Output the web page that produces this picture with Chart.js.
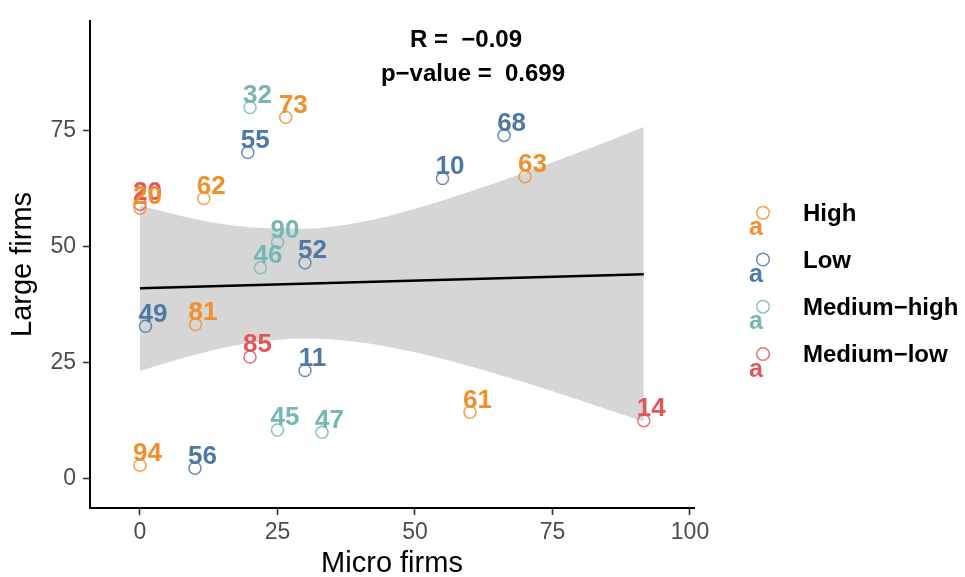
<!DOCTYPE html>
<html>
<head>
<meta charset="utf-8">
<script src="https://cdn.jsdelivr.net/npm/chart.js@4/dist/chart.umd.min.js"></script>
<style>
  html, body { margin: 0; padding: 0; background: #ffffff; overflow: hidden; }
  canvas { display: block; }
</style>
</head>
<body>
<canvas id="c" width="965" height="577"></canvas>
<script>
// ---------- data ----------
const categories = ['High', 'Low', 'Medium\u2212high', 'Medium\u2212low'];
const colors = ['#F28E2B', '#4E79A7', '#76B7B2', '#E15759'];

const highX = [26.5, 11.6, 0, 10.1, 0, 70.0, 60.0];
const highY = [77.8, 60.3, 58.2, 33.2, 2.9, 65.0, 14.3];
const highLabels = ['73', '62', '20', '81', '94', '63', '61'];

const lowX = [19.6, 30.0, 1.0, 30.0, 10.0, 66.2, 55.0];
const lowY = [70.2, 46.5, 32.8, 23.3, 2.25, 73.9, 64.6];
const lowLabels = ['55', '52', '49', '11', '56', '68', '10'];

const medHighX = [20.0, 25.0, 21.9, 25.0, 33.1];
const medHighY = [79.9, 50.9, 45.4, 10.5, 10.0];
const medHighLabels = ['32', '90', '46', '45', '47'];

const medLowX = [0, 20.0, 91.6];
const medLowY = [59.1, 26.2, 12.5];
const medLowLabels = ['20', '85', '14'];

// fitted line and its confidence band
const fitX = [0, 91.6];
const fitY = [41.0, 44.0];
const bandX = [0, 10, 20, 30, 40, 50, 60, 70, 80, 91.6];
const bandLow = [23.2, 26.7, 29.2, 30.2, 29.4, 27.2, 24.2, 20.7, 16.9, 12.3];
const bandHigh = [58.8, 55.9, 54.1, 53.8, 55.2, 58.1, 61.8, 65.9, 70.3, 75.7];

const xTicks = [0, 25, 50, 75, 100];
const yTicks = [0, 25, 50, 75];

const statR = 'R =  \u22120.09';
const statP = 'p\u2212value =  0.699';
const xTitle = 'Micro firms';
const yTitle = 'Large firms';

// ---------- helpers ----------
const FAMILY = '"Liberation Sans", Arial, Helvetica, sans-serif';
function pts(xs, ys) { return xs.map((x, i) => ({ x: x, y: ys[i] })); }
function alpha(hex, a) {
  const n = parseInt(hex.slice(1), 16);
  return 'rgba(' + ((n >> 16) & 255) + ',' + ((n >> 8) & 255) + ',' + (n & 255) + ',' + a + ')';
}
const groups = [
  { name: categories[0], color: colors[0], x: highX, y: highY, labels: highLabels },
  { name: categories[1], color: colors[1], x: lowX, y: lowY, labels: lowLabels },
  { name: categories[2], color: colors[2], x: medHighX, y: medHighY, labels: medHighLabels },
  { name: categories[3], color: colors[3], x: medLowX, y: medLowY, labels: medLowLabels }
];

const pointDatasets = groups.map(g => ({
  type: 'scatter',
  label: g.name,
  data: pts(g.x, g.y),
  pointStyle: 'circle',
  pointRadius: 6,
  pointBorderWidth: 1.5,
  pointBackgroundColor: 'rgba(0,0,0,0)',
  pointBorderColor: alpha(g.color, 0.85),
  order: 1
}));

// ---------- overlay plugin: point labels, stats text, legend ----------
const overlay = {
  id: 'overlay',
  afterDatasetsDraw(chart) {
    const ctx = chart.ctx;
    const xs = chart.scales.x, ys = chart.scales.y;
    ctx.save();
    // point labels
    ctx.font = 'bold 26px ' + FAMILY;
    ctx.textAlign = 'center';
    ctx.textBaseline = 'alphabetic';
    const drawOrder = [3, 2, 1, 0];
    drawOrder.forEach(gi => {
      const g = groups[gi];
      ctx.fillStyle = g.color;
      g.labels.forEach((lab, i) => {
        const px = xs.getPixelForValue(g.x[i]);
        const py = ys.getPixelForValue(g.y[i]);
        ctx.fillText(lab, px + 7.5, py - 4.5);
      });
    });
    // stats annotation
    ctx.fillStyle = '#000';
    ctx.font = 'bold 24px ' + FAMILY;
    ctx.fillText(statR, 466, 47);
    ctx.fillText(statP, 473, 81);
    // legend
    const rowY = [212.7, 259.5, 306.7, 354];
    groups.forEach((g, i) => {
      const cy = rowY[i];
      ctx.beginPath();
      ctx.arc(763, cy, 6.3, 0, Math.PI * 2);
      ctx.lineWidth = 1.5;
      ctx.strokeStyle = alpha(g.color, 0.85);
      ctx.stroke();
      ctx.fillStyle = g.color;
      ctx.font = 'bold 25px ' + FAMILY;
      ctx.textAlign = 'center';
      ctx.fillText('a', 756, cy + 22.5);
      ctx.fillStyle = '#000';
      ctx.font = 'bold 24px ' + FAMILY;
      ctx.textAlign = 'left';
      ctx.fillText(g.name, 803, cy + 8.3);
    });
    ctx.restore();
  }
};

// ---------- chart ----------
new Chart(document.getElementById('c'), {
  type: 'scatter',
  data: {
    datasets: [
      {
        type: 'line', label: 'band-low', data: pts(bandX, bandLow),
        borderWidth: 0, borderColor: 'rgba(0,0,0,0)', pointRadius: 0,
        fill: false, cubicInterpolationMode: 'monotone', order: 3
      },
      {
        type: 'line', label: 'band-high', data: pts(bandX, bandHigh),
        borderWidth: 0, borderColor: 'rgba(0,0,0,0)', pointRadius: 0,
        fill: '-1', backgroundColor: '#d6d6d6', cubicInterpolationMode: 'monotone', order: 3
      },
      {
        type: 'line', label: 'fit', data: pts(fitX, fitY),
        borderWidth: 2.5, borderColor: '#000000', pointRadius: 0, fill: false, order: 2
      }
    ].concat(pointDatasets)
  },
  options: {
    responsive: false,
    devicePixelRatio: 1,
    animation: false,
    events: [],
    layout: { padding: { top: 14, right: 271, bottom: 0, left: 0 } },
    plugins: {
      legend: { display: false },
      tooltip: { enabled: false }
    },
    scales: {
      x: {
        type: 'linear', position: 'bottom',
        min: -9.09, max: 100.73,
        afterBuildTicks: s => { s.ticks = xTicks.map(v => ({ value: v })); },
        afterFit: s => { s.height = 69; },
        grid: { display: true, drawOnChartArea: false, drawTicks: true, tickLength: 7, tickColor: '#333333', tickWidth: 1.6 },
        border: { display: true, color: '#000000', width: 2 },
        ticks: { color: '#4d4d4d', font: { size: 23, family: FAMILY }, padding: 4, maxRotation: 0, autoSkip: false },
        title: { display: true, text: xTitle, color: '#000000', font: { size: 29, family: FAMILY, lineHeight: 0.9 }, padding: { top: 0, bottom: 0 } }
      },
      y: {
        type: 'linear', position: 'left',
        min: -6.3, max: 98.56,
        afterBuildTicks: s => { s.ticks = yTicks.map(v => ({ value: v })); },
        afterFit: s => { s.width = 90; },
        grid: { display: true, drawOnChartArea: false, drawTicks: true, tickLength: 7, tickColor: '#333333', tickWidth: 1.6 },
        border: { display: true, color: '#000000', width: 2 },
        ticks: { color: '#4d4d4d', font: { size: 23, family: FAMILY }, padding: 7, autoSkip: false },
        title: { display: true, text: yTitle, color: '#000000', font: { size: 29, family: FAMILY, lineHeight: 0.9 }, padding: { top: 9.6, bottom: 0 } }
      }
    }
  },
  plugins: [overlay]
});
</script>
</body>
</html>
